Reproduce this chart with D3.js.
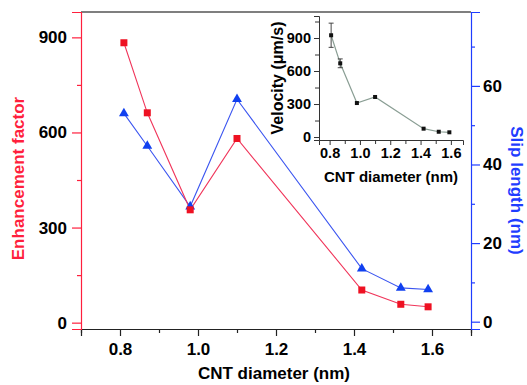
<!DOCTYPE html>
<html>
<head>
<meta charset="utf-8">
<script src="https://cdn.jsdelivr.net/npm/d3@7"></script>
<style>
  body { margin: 0; background: #fff; }
  text { font-family: Arial, 'Liberation Sans', sans-serif; font-weight: bold; }
</style>
</head>
<body>
<svg id="chart" width="527" height="385"></svg>
<script>
// data
const diameters = [0.81, 0.87, 0.98, 1.10, 1.42, 1.52, 1.59]
const enhancement = [883, 662, 356, 581, 103, 58, 50]
const slipLength = [53.0, 44.7, 29.3, 56.6, 13.5, 8.6, 8.2]
const velocity = [925, 670, 309, 364, 76, 48, 43]
const velocityErr = [110, 40, 0, 0, 0, 0, 0]

const xTicks = [0.8, 1.0, 1.2, 1.4, 1.6]
const leftTicks = [0, 300, 600, 900]
const rightTicks = [0, 20, 40, 60]
const insetYTicks = [0, 300, 600, 900]

const red = '#ff1f3d'
const blue = '#1f3dff'

const m = { left: 81, right: 471, top: 12, bottom: 329 }

const svg = d3.select('#chart')

const x = d3.scaleLinear().domain([0.7, 1.7]).range([m.left, m.right])
const yL = d3.scaleLinear().domain([-20, 980]).range([m.bottom, m.top])
const yR = d3.scaleLinear().domain([-1.86, 78.8]).range([m.bottom, m.top])

// top border
svg.append('line')
  .attr('x1', m.left).attr('x2', m.right)
  .attr('y1', m.top).attr('y2', m.top)
  .attr('stroke', '#000').attr('stroke-width', 1.2)

function styleAxis(g, color, size) {
  g.select('.domain').attr('stroke', color).attr('stroke-width', 1.2)
  g.selectAll('.tick line').attr('stroke', color).attr('stroke-width', 1.2)
  g.selectAll('.tick text').attr('fill', '#000').style('font-size', size + 'px')
    .style('font-weight', 'bold').style('font-family', 'Arial, Liberation Sans, sans-serif')
}

// minor ticks
function minor(g, axisFn, scale, values) {
  g.append('g').call(axisFn(scale).tickValues(values).tickSize(4).tickFormat(''))
    .call(s => s.select('.domain').remove())
}

// bottom axis
const gx = svg.append('g').attr('transform', `translate(0,${m.bottom})`)
gx.call(d3.axisBottom(x).tickValues(xTicks).tickSize(7).tickPadding(7).tickFormat(d3.format('.1f')))
minor(gx, d3.axisBottom, x, d3.range(7, 18).map(v => v / 10).filter(v => !xTicks.some(t => Math.abs(t - v) < 1e-6)))
styleAxis(gx, '#222', 17)

// left axis
const gl = svg.append('g').attr('transform', `translate(${m.left},0)`)
gl.call(d3.axisLeft(yL).tickValues(leftTicks).tickSize(9).tickPadding(5))
minor(gl, d3.axisLeft, yL, [150, 450, 750])
styleAxis(gl, red, 17)

// right axis
const gr = svg.append('g').attr('transform', `translate(${m.right},0)`)
gr.call(d3.axisRight(yR).tickValues(rightTicks).tickSize(9).tickPadding(3))
minor(gr, d3.axisRight, yR, [10, 30, 50, 70])
styleAxis(gr, blue, 17)

// axis titles
svg.append('text')
  .attr('transform', `translate(24,${(m.top + m.bottom) / 2 + 8}) rotate(-90)`)
  .attr('text-anchor', 'middle')
  .attr('fill', red).style('font-size', '17px')
  .text('Enhancement factor')

svg.append('text')
  .attr('transform', `translate(511,${(m.top + m.bottom) / 2 + 20}) rotate(90)`)
  .attr('text-anchor', 'middle')
  .attr('fill', blue).style('font-size', '17px')
  .text('Slip length (nm)')

svg.append('text')
  .attr('x', 274).attr('y', 379)
  .attr('text-anchor', 'middle')
  .attr('fill', '#000').style('font-size', '17px')
  .text('CNT diameter (nm)')

// series
const redData = diameters.map((d, i) => ({ x: d, y: enhancement[i] }))
const blueData = diameters.map((d, i) => ({ x: d, y: slipLength[i] }))

svg.append('path').datum(blueData)
  .attr('fill', 'none').attr('stroke', '#3b55f0').attr('stroke-width', 1.1)
  .attr('d', d3.line().x(d => x(d.x)).y(d => yR(d.y)))

svg.append('path').datum(redData)
  .attr('fill', 'none').attr('stroke', '#f0355a').attr('stroke-width', 1.1)
  .attr('d', d3.line().x(d => x(d.x)).y(d => yL(d.y)))

svg.selectAll('.tri').data(blueData).enter().append('path')
  .attr('class', 'tri')
  .attr('transform', d => `translate(${x(d.x)},${yR(d.y)})`)
  .attr('d', d3.symbol(d3.symbolTriangle, 42))
  .attr('fill', '#1040f0')

svg.selectAll('.sq').data(redData).enter().append('rect')
  .attr('class', 'sq')
  .attr('x', d => x(d.x) - 3.5).attr('y', d => yL(d.y) - 3.5)
  .attr('width', 7).attr('height', 7)
  .attr('fill', '#ee1122')

// inset
const ix = d3.scaleLinear().domain([0.73, 1.68]).range([319, 463])
const iy = d3.scaleLinear().domain([-27, 1100]).range([140, 16])

const gix = svg.append('g').attr('transform', 'translate(0,140)')
gix.call(d3.axisBottom(ix).tickValues(xTicks).tickSize(5).tickPadding(3).tickFormat(d3.format('.1f')))
minor(gix, d3.axisBottom, ix, [0.9, 1.1, 1.3, 1.5])
styleAxis(gix, '#333', 14.5)

const giy = svg.append('g').attr('transform', 'translate(319,0)')
giy.call(d3.axisLeft(iy).tickValues(insetYTicks).tickSize(5).tickPadding(3))
minor(giy, d3.axisLeft, iy, [150, 450, 750, 1050])
styleAxis(giy, '#333', 14.5)
gix.selectAll('line, .domain').attr('stroke-width', 1)
giy.selectAll('line, .domain').attr('stroke-width', 1)

svg.append('text')
  .attr('transform', `translate(283,78) rotate(-90)`)
  .attr('text-anchor', 'middle')
  .attr('fill', '#000').style('font-size', '16px')
  .text('Velocity (μm/s)')

svg.append('text')
  .attr('x', 391).attr('y', 182)
  .attr('text-anchor', 'middle')
  .attr('fill', '#000').style('font-size', '15px')
  .text('CNT diameter (nm)')

const insetData = diameters.map((d, i) => ({ x: d, y: velocity[i], e: velocityErr[i] }))

svg.append('path').datum(insetData)
  .attr('fill', 'none').attr('stroke', '#8a9e94').attr('stroke-width', 1.2)
  .attr('d', d3.line().x(d => ix(d.x)).y(d => iy(d.y)))

const eb = svg.selectAll('.eb').data(insetData.filter(d => d.e > 0)).enter().append('g')
  .attr('stroke', '#333').attr('stroke-width', 0.9)
eb.append('line')
  .attr('x1', d => ix(d.x)).attr('x2', d => ix(d.x))
  .attr('y1', d => iy(d.y - d.e)).attr('y2', d => iy(d.y + d.e))
eb.append('line')
  .attr('x1', d => ix(d.x) - 2.5).attr('x2', d => ix(d.x) + 2.5)
  .attr('y1', d => iy(d.y + d.e)).attr('y2', d => iy(d.y + d.e))
eb.append('line')
  .attr('x1', d => ix(d.x) - 2.5).attr('x2', d => ix(d.x) + 2.5)
  .attr('y1', d => iy(d.y - d.e)).attr('y2', d => iy(d.y - d.e))

svg.selectAll('.isq').data(insetData).enter().append('rect')
  .attr('class', 'isq')
  .attr('x', d => ix(d.x) - 2).attr('y', d => iy(d.y) - 2)
  .attr('width', 4).attr('height', 4)
  .attr('fill', '#111')
</script>
</body>
</html>
